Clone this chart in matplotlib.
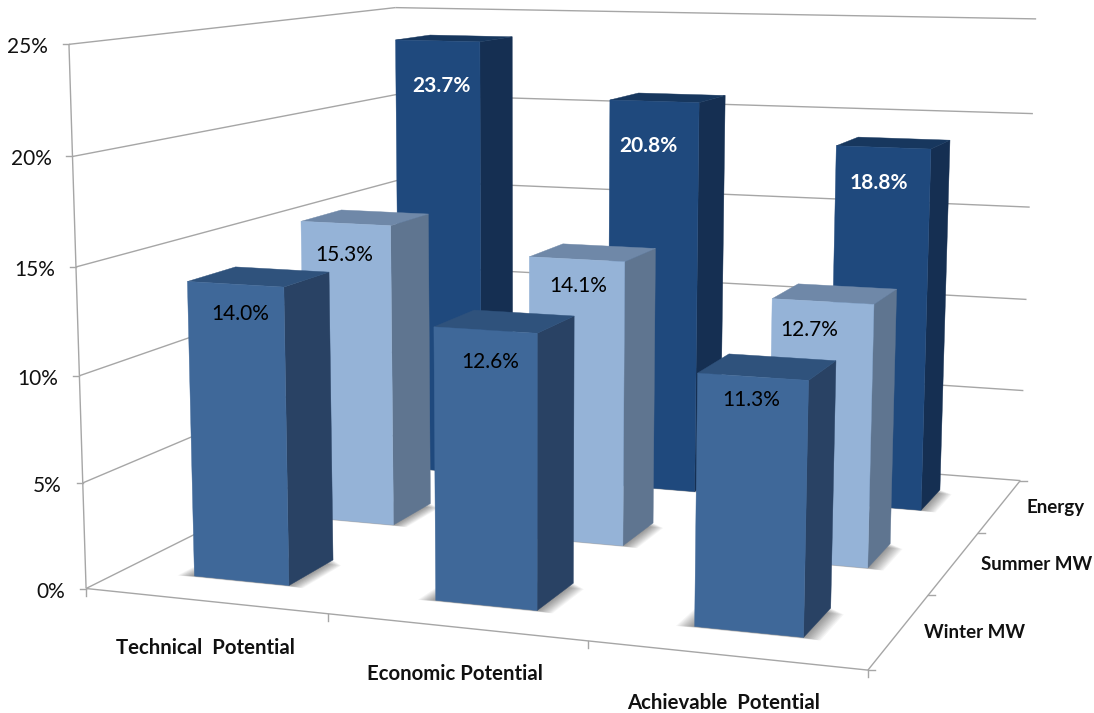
import numpy as np
import matplotlib
matplotlib.use('Agg')
import matplotlib.pyplot as plt
from matplotlib.patches import Polygon

# --- DATA ---
CATEGORIES = ['Technical  Potential', 'Economic Potential', 'Achievable  Potential']
SERIES = ['Winter MW', 'Summer MW', 'Energy']
WINTER = [14.0, 12.6, 11.3]
SUMMER = [15.3, 14.1, 12.7]
ENERGY = [23.7, 20.8, 18.8]
Z_TICKS = [0, 5, 10, 15, 20, 25]

# --- CONFIGURATION ---
W, H = 1094, 713
HALF_W = 0.2
HALF_D = 0.2
GRID = '#a6a6a6'
FRONT = ['#3f6899', '#95b3d7', '#1f497d']
TOP = ['#2f527c', '#6f88a8', '#17375e']
SIDE = ['#294264', '#5f7590', '#152f52']
TEXT_COL = ['#000000', '#000000', '#ffffff']
TEXT_WEIGHT = ['normal', 'normal', 'bold']

# frame corners: (x, depth, z) -> pixel
CALIB = [
    ((0, 0, 0), (86, 588)), ((1, 0, 0), (328, 615)), ((3, 0, 0), (867, 670)),
    ((3, 1, 0), (928, 595)), ((3, 2, 0), (980, 533)), ((3, 3, 0), (1020, 481)),
    ((0, 0, 25), (68, 44)), ((0, 3, 25), (393, 8)), ((3, 3, 25), (1036, 19)),
    ((0, 0, 20), (73, 157)), ((0, 0, 15), (76, 267)), ((0, 0, 5), (83, 482)),
    ((3, 3, 20), (1033, 114)), ((3, 3, 15), (1030, 207)),
    ((3, 3, 10), (1026, 299)), ((3, 3, 5), (1023, 390)),
    # corners of the tall back bars, they pull the middle of the box in
    ((0.3, 2.3, 23.7), (397, 40)), ((0.7, 2.3, 23.7), (481, 42)), ((0.7, 2.7, 23.7), (513, 37)),
    ((1.3, 2.3, 20.8), (610, 100)), ((1.7, 2.3, 20.8), (699, 102)), ((1.7, 2.7, 20.8), (725, 95)),
]

# label offsets from the top front centre of each bar, pixels
LABEL_DX = [[5, 5, -1], [-1, 1, -14], [4, -6, -5]]
LABEL_DY = [[30, 32, 23], [32, 27, 28], [45, 45, 36]]

# tick label anchors
CAT_POS = [(205, 648), (455, 674), (724, 703)]
SER_POS = [(975, 632), (1037, 564), (1056, 507)]


def fit_camera(calib):
    """Projective camera from the calibration points."""
    A, b = [], []
    for (X, Y, Z), (u, v) in calib:
        A.append([X, Y, Z, 1, 0, 0, 0, 0, -u * X, -u * Y, -u * Z])
        A.append([0, 0, 0, 0, X, Y, Z, 1, -v * X, -v * Y, -v * Z])
        b += [u, v]
    sol = np.linalg.lstsq(np.array(A, float), np.array(b, float), rcond=None)[0]
    return np.append(sol, 1).reshape(3, 4)


CAM = fit_camera(CALIB)


def proj(x, y, z):
    p = CAM @ np.array([x, y, z, 1.0])
    return p[0] / p[2], p[1] / p[2]


fig = plt.figure(figsize=(W / 100, H / 100), dpi=100)
ax = fig.add_axes([0, 0, 1, 1])
ax.set_xlim(0, W)
ax.set_ylim(H, 0)
ax.set_axis_off()


def line(a, b, lw=1.0, color=GRID, z=1):
    pa, pb = proj(*a), proj(*b)
    ax.plot([pa[0], pb[0]], [pa[1], pb[1]], color=color, lw=lw, zorder=z, solid_capstyle='butt')


# --- WALLS AND FLOOR ---
for zt in Z_TICKS:
    line((0, 0, zt), (0, 3, zt))
    line((0, 3, zt), (3, 3, zt))
    p = proj(0, 0, zt)
    ax.plot([p[0] - 6, p[0]], [p[1], p[1]], color=GRID, lw=1.0, zorder=1)
    ax.text(p[0] - 21, p[1] + 3, f'{zt}%', ha='right', va='center', fontsize=15,
            family='Lato', color='#111111')
line((0, 0, 0), (0, 0, 25))
line((0, 0, 0), (3, 0, 0))
line((3, 0, 0), (3, 3, 0))
for i in range(4):
    p = proj(i, 0, 0)
    ax.plot([p[0], p[0]], [p[1], p[1] + 7], color=GRID, lw=1.0, zorder=1)
    p = proj(3, i, 0)
    ax.plot([p[0], p[0] + 7], [p[1], p[1]], color=GRID, lw=1.0, zorder=1)

for name, pos in zip(CATEGORIES, CAT_POS):
    ax.text(pos[0], pos[1], name, ha='center', va='center', fontsize=14.7,
            family='Lato', fontweight='bold', color='#111111')
for name, pos in zip(SERIES, SER_POS):
    ax.text(pos[0], pos[1], name, ha='center', va='center', fontsize=13.5,
            family='Lato', fontweight='bold', color='#111111')

# --- BARS ---
zo = 5
values = [WINTER, SUMMER, ENERGY]
for j in [2, 1, 0]:
    for i in range(3):
        val = values[j][i]
        x0, x1 = i + 0.5 - HALF_W, i + 0.5 + HALF_W
        y0, y1 = j + 0.5 - HALF_D, j + 0.5 + HALF_D
        # soft contact shadow on the floor
        for e in np.linspace(0.005, 0.065, 12):
            pts = [proj(x0 - e, y0 - e * 0.25, 0), proj(x1 + e, y0 - e * 0.25, 0),
                   proj(x1 + e, y1 - e, 0), proj(x0 - e, y1 - e, 0)]
            ax.add_patch(Polygon(pts, fc='#000000', ec='none', alpha=0.04, zorder=zo))
        zo += 1
        front = [proj(x0, y0, 0), proj(x1, y0, 0), proj(x1, y0, val), proj(x0, y0, val)]
        side = [proj(x1, y0, 0), proj(x1, y1, 0), proj(x1, y1, val), proj(x1, y0, val)]
        top = [proj(x0, y0, val), proj(x1, y0, val), proj(x1, y1, val), proj(x0, y1, val)]
        for poly, col in ((side, SIDE[j]), (top, TOP[j]), (front, FRONT[j])):
            ax.add_patch(Polygon(poly, fc=col, ec=col, lw=0.3, zorder=zo))
            zo += 1
        c = proj(i + 0.5, y0, val)
        ax.text(c[0] + LABEL_DX[j][i], c[1] + LABEL_DY[j][i], f'{val:.1f}%', ha='center', va='center',
                fontsize=15, family='Lato', color=TEXT_COL[j], fontweight=TEXT_WEIGHT[j], zorder=200)

fig.savefig('out.png', dpi=100)
